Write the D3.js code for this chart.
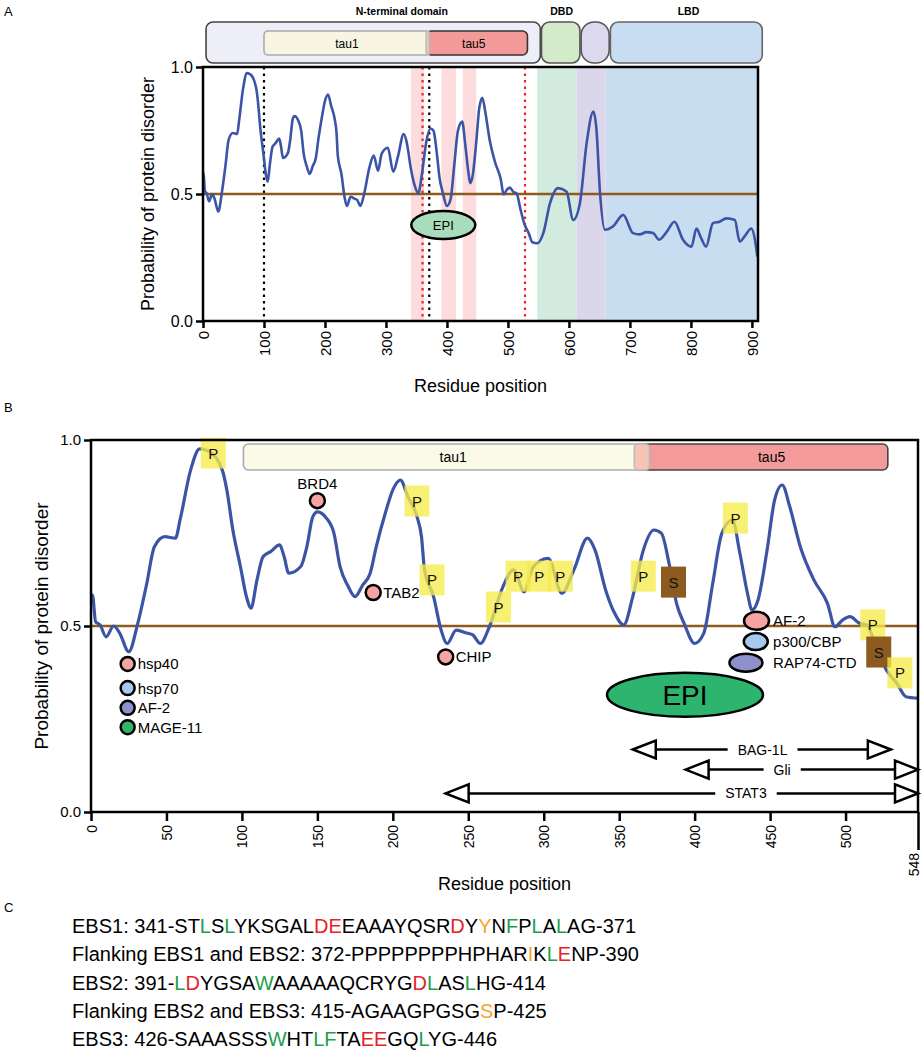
<!DOCTYPE html>
<html><head><meta charset="utf-8">
<script src="https://cdn.jsdelivr.net/npm/d3@7"></script>
<style>body{margin:0;background:#fff}svg text{font-family:"Liberation Sans",Arial,sans-serif}</style>
</head><body><svg id="c" width="923" height="1050"></svg>
<script>
// ---------------- DATA ----------------
const residues = [0,1,3,6,10,15,19,25,31,37,42,49,56,59,66,72,78,87,90,94,99,103,106,110,114,119,125,128,131,139,143,147,150,156,161,165,170,175,180,185,189,195,200,205,210,216,219,221,227,232,236,242,249,253,258,264,273,280,287,293,303,312,320,329,334,341,347,353,359,366,373,378,383,388,393,400,406,412,418,425,430,435,438,442,448,453,458,463,470,479,488,493,498,503,509,514,521,527,534,540,548,558,569,582,596,607,618,629,640,645,651,659,672,689,705,716,727,738,748,760,773,787,801,809,817,825,836,847,858,872,880,888,899,905,909];
const disorder = [0.58,0.583,0.512,0.503,0.471,0.5,0.481,0.431,0.507,0.615,0.713,0.74,0.736,0.785,0.919,0.976,0.97,0.919,0.866,0.758,0.66,0.579,0.548,0.624,0.686,0.7,0.718,0.686,0.642,0.66,0.713,0.794,0.807,0.79,0.749,0.66,0.61,0.579,0.61,0.642,0.713,0.803,0.866,0.892,0.848,0.794,0.74,0.651,0.579,0.489,0.453,0.489,0.481,0.476,0.453,0.498,0.606,0.651,0.592,0.659,0.682,0.588,0.651,0.736,0.704,0.597,0.534,0.503,0.579,0.704,0.758,0.749,0.669,0.561,0.507,0.453,0.48,0.615,0.749,0.785,0.695,0.588,0.543,0.57,0.704,0.839,0.879,0.821,0.713,0.624,0.561,0.498,0.516,0.525,0.508,0.503,0.435,0.382,0.346,0.31,0.306,0.346,0.464,0.523,0.51,0.398,0.464,0.70,0.825,0.757,0.503,0.359,0.372,0.418,0.346,0.341,0.35,0.346,0.32,0.35,0.391,0.32,0.293,0.364,0.325,0.293,0.385,0.391,0.404,0.398,0.313,0.333,0.364,0.32,0.253];

const xTicksA = [0,100,200,300,400,500,600,700,800,900];
const xTicksB = [0,50,100,150,200,250,300,350,400,450,500];
const yTicks = [0,0.5,1];

// panel A shaded regions (residue ranges)
const bandStart = [341,391,426,548,613,660];
const bandEnd   = [362,415,448,613,660,910];
const bandColor = ["#fcdcdc","#fcdcdc","#fcdcdc","#d3ebdf","#dcd6ea","#c9ddf1"];
// dotted boundaries
const blackDotted = [100,371];
const redDotted = [360,528];

// domain bar (panel A)
const domainLabels = ["N-terminal domain","DBD","LBD"];
const domainLabelPos = [326,588,796];

// panel B post-translational modifications
const modType = ["P","P","P","P","P","P","P","P","S","P","P","S","P"];
const modRes  = [81,216,226,270,283,297,311,366,386,427,518,522,536];
const modVal  = [0.965,0.836,0.624,0.551,0.634,0.634,0.634,0.634,0.618,0.79,0.503,0.43,0.374];

// interaction partners shown at a residue
const partnerName = ["BRD4","TAB2","CHIP"];
const partnerRes  = [150,187,235];
const partnerVal  = [0.837,0.59,0.417];

// partners listed at lower left
const leftName = ["hsp40","hsp70","AF-2","MAGE-11"];
const leftVal  = [0.398,0.333,0.28,0.228];
const leftColor= ["#f5a3a3","#a8c8ec","#8e90cc","#2fb46c"];

// cluster near tau5
const clusterName = ["AF-2","p300/CBP","RAP74-CTD"];
const clusterRes  = [441,440.5,434];
const clusterVal  = [0.514,0.458,0.401];
const clusterColor= ["#f5a3a3","#a8c8ec","#8e90cc"];

// range arrows
const rangeName  = ["BAG-1L","Gli","STAT3"];
const rangeStart = [359,394,235];
const rangeEnd   = [530,548,548];
const rangeVal   = [0.168,0.114,0.05];
const rangeLabelRes = [445,458,434];

// panel C sequences: [text, colour key]
const seqLines = [
 [["EBS1: 341-ST","k"],["L","g"],["S","k"],["L","g"],["YKSGAL","k"],["DE","r"],["EAAAYQSR","k"],["D","r"],["Y","k"],["Y","o"],["N","k"],["F","g"],["P","k"],["L","g"],["A","k"],["L","g"],["AG-371","k"]],
 [["Flanking EBS1 and EBS2: 372-PPPPPPPPHPHAR","k"],["I","o"],["K","k"],["L","g"],["E","r"],["NP-390","k"]],
 [["EBS2: 391-","k"],["L","g"],["D","r"],["YGSA","k"],["W","g"],["AAAAAQCRYG","k"],["D","r"],["L","g"],["AS","k"],["L","g"],["HG-414","k"]],
 [["Flanking EBS2 and EBS3: 415-AGAAGPGSG","k"],["S","o"],["P-425","k"]],
 [["EBS3: 426-SAAASSS","k"],["W","g"],["HT","k"],["LF","g"],["TA","k"],["EE","r"],["GQ","k"],["L","g"],["YG-446","k"]]
];
const seqColor = {k:"#000",g:"#1c9e4a",r:"#e52229",o:"#f4a52c"};

// ---------------- DRAW ----------------
const profile = residues.map((r,i)=>[r,disorder[i]]);
const svg = d3.select("#c");
const BLUE = "#3b54a6", BROWN = "#8d5b1c";

function styleAxis(g, fs){
  g.selectAll("path").remove();
  g.selectAll("line").attr("stroke","#000").attr("stroke-width",2.5);
  g.selectAll("text").attr("fill","#000").attr("font-size",fs);
}

// ===== Panel A =====
const xA = d3.scaleLinear().domain([0,910]).range([203,758]);
const yA = d3.scaleLinear().domain([0,1]).range([321,67]);
svg.append("text").attr("x",4).attr("y",16).attr("font-size",13).text("A");

const gA = svg.append("g");
gA.selectAll("rect.band").data(bandStart).join("rect")
  .attr("x",(d)=>xA(d)).attr("width",(d,i)=>xA(bandEnd[i])-xA(d))
  .attr("y",yA(1)).attr("height",yA(0)-yA(1)).attr("fill",(d,i)=>bandColor[i]);
gA.selectAll("line.bd").data(blackDotted).join("line")
  .attr("x1",d=>xA(d)).attr("x2",d=>xA(d)).attr("y1",yA(1)).attr("y2",yA(0))
  .attr("stroke","#000").attr("stroke-width",2.2).attr("stroke-dasharray","2.5,4");
gA.selectAll("line.rd").data(redDotted).join("line")
  .attr("x1",d=>xA(d)).attr("x2",d=>xA(d)).attr("y1",yA(1)).attr("y2",yA(0))
  .attr("stroke","#ee2222").attr("stroke-width",2.2).attr("stroke-dasharray","2.5,4");
gA.append("line").attr("x1",xA(0)).attr("x2",xA(910)).attr("y1",yA(0.5)).attr("y2",yA(0.5))
  .attr("stroke",BROWN).attr("stroke-width",2.5);
const lineA = d3.line().x(d=>xA(d[0])).y(d=>yA(d[1])).curve(d3.curveMonotoneX);
gA.append("path").datum(profile).attr("d",lineA).attr("fill","none").attr("stroke",BLUE).attr("stroke-width",2.6);
// EPI in A
gA.append("ellipse").attr("cx",xA(394)).attr("cy",yA(0.378)).attr("rx",32).attr("ry",14)
  .attr("fill","#a9dcbc").attr("stroke","#000").attr("stroke-width",2.5);
gA.append("text").attr("x",xA(394)).attr("y",yA(0.378)+5).attr("text-anchor","middle").attr("font-size",13).text("EPI");
gA.append("rect").attr("x",xA(0)).attr("y",yA(1)).attr("width",xA(910)-xA(0)).attr("height",yA(0)-yA(1))
  .attr("fill","none").attr("stroke","#000").attr("stroke-width",2.5);
// axes A
const axA_x = gA.append("g").attr("transform",`translate(0,${yA(0)})`)
  .call(d3.axisBottom(xA).tickValues(xTicksA).tickSize(7).tickSizeOuter(0));
styleAxis(axA_x,15);
axA_x.selectAll(".tick text").attr("transform","rotate(-90)").attr("text-anchor","end")
  .attr("x",-10).attr("y",0).attr("dy","0.36em");
const axA_y = gA.append("g").attr("transform",`translate(${xA(0)},0)`)
  .call(d3.axisLeft(yA).tickValues(yTicks).tickFormat(d3.format(".1f")).tickSize(7).tickSizeOuter(0));
styleAxis(axA_y,16);
svg.append("text").attr("transform",`translate(${(xA(0)+xA(910))/2},392)`).attr("text-anchor","middle")
  .attr("font-size",18).text("Residue position");
svg.append("text").attr("transform",`translate(154,${(yA(0)+yA(1))/2}) rotate(-90)`).attr("text-anchor","middle")
  .attr("font-size",18).text("Probability of protein disorder");

// domain bar
const dTop = 22, dBot = 63;
function rbox(g,x0,x1,y0,y1,fill,stroke,r){
  g.append("rect").attr("x",x0).attr("y",y0).attr("width",x1-x0).attr("height",y1-y0)
   .attr("rx",r).attr("ry",r).attr("fill",fill).attr("stroke",stroke).attr("stroke-width",1.6);
}
rbox(svg,xA(5),xA(553),dTop,dBot,"#eeeef8","#444",7);
rbox(svg,xA(366),xA(532),31,55,"#f39a98","#333",5);
rbox(svg,xA(100),xA(371),31,55,"#f8f5e3","#aaa",4);
rbox(svg,xA(366),xA(371),31,55,"#f7c6b8","#bbb",3);
rbox(svg,xA(555),xA(618),dTop,dBot,"#d3ebc9","#555",8);
rbox(svg,xA(620),xA(666),dTop,dBot,"#dcd8ee","#555",13);
rbox(svg,xA(668),xA(917),dTop,dBot,"#c9ddf2","#666",8);
svg.append("text").attr("x",xA(236)).attr("y",48).attr("text-anchor","middle").attr("font-size",12).text("tau1");
svg.append("text").attr("x",xA(444)).attr("y",48).attr("text-anchor","middle").attr("font-size",12).text("tau5");
svg.selectAll("text.dl").data(domainLabels).join("text")
  .attr("x",(d,i)=>xA(domainLabelPos[i])).attr("y",15).attr("text-anchor","middle")
  .attr("font-size",10.5).attr("font-weight","bold").text(d=>d);

// ===== Panel B =====
const xB = d3.scaleLinear().domain([0,548]).range([91,918]);
const yB = d3.scaleLinear().domain([0,1]).range([812,440]);
svg.append("text").attr("x",4).attr("y",412).attr("font-size",13).text("B");
const gB = svg.append("g");
// tau bars
rbox(gB,xB(360),xB(528),444,470,"#f49a9a","#444",5);
rbox(gB,xB(101),xB(370),444,470,"#fbf9e8","#aaa",5);
rbox(gB,xB(360),xB(370),444,470,"#f7c4b4","#bbb",4);
gB.append("text").attr("x",xB(240)).attr("y",462).attr("text-anchor","middle").attr("font-size",14).text("tau1");
gB.append("text").attr("x",xB(451)).attr("y",462).attr("text-anchor","middle").attr("font-size",14).text("tau5");

gB.append("line").attr("x1",xB(0)).attr("x2",xB(548)).attr("y1",yB(0.5)).attr("y2",yB(0.5))
  .attr("stroke",BROWN).attr("stroke-width",2.5);
const lineB = d3.line().x(d=>xB(d[0])).y(d=>yB(d[1])).curve(d3.curveMonotoneX);
gB.append("path").datum(profile.filter(d=>d[0]<=548)).attr("d",lineB)
  .attr("fill","none").attr("stroke",BLUE).attr("stroke-width",3.2);

// modifications
const mods = gB.selectAll("g.mod").data(modType).join("g")
  .attr("transform",(d,i)=>`translate(${xB(modRes[i])},${yB(modVal[i])})`);
mods.append("rect").attr("x",-12.5).attr("y",-15.5).attr("width",25).attr("height",31)
  .attr("fill",d=>d==="P"?"#f5ec4a":"#8d5a1f").attr("fill-opacity",d=>d==="P"?0.78:1);
mods.append("text").attr("text-anchor","middle").attr("y",5.5).attr("font-size",15).attr("fill","#111").text(d=>d);

// partners with markers
gB.selectAll("circle.pt").data(partnerName).join("circle")
  .attr("cx",(d,i)=>xB(partnerRes[i])).attr("cy",(d,i)=>yB(partnerVal[i])).attr("r",7.5)
  .attr("fill","#f5a3a3").attr("stroke","#000").attr("stroke-width",2.5);
gB.selectAll("text.pt").data(partnerName).join("text")
  .attr("x",(d,i)=> i===0 ? xB(partnerRes[i]) : xB(partnerRes[i])+10)
  .attr("y",(d,i)=> i===0 ? yB(partnerVal[i])-12 : yB(partnerVal[i])+5.5)
  .attr("text-anchor",(d,i)=>i===0?"middle":"start").attr("font-size",15).text(d=>d);

gB.selectAll("circle.lf").data(leftName).join("circle")
  .attr("cx",xB(24.3)).attr("cy",(d,i)=>yB(leftVal[i])).attr("r",7)
  .attr("fill",(d,i)=>leftColor[i]).attr("stroke","#000").attr("stroke-width",2.5);
gB.selectAll("text.lf").data(leftName).join("text")
  .attr("x",xB(24.3)+10).attr("y",(d,i)=>yB(leftVal[i])+5.5).attr("font-size",15).text(d=>d);

const rxs=[12.5,12,16.5], rys=[9,8.5,9];
gB.selectAll("ellipse.cl").data(clusterName).join("ellipse")
  .attr("cx",(d,i)=>xB(clusterRes[i])).attr("cy",(d,i)=>yB(clusterVal[i]))
  .attr("rx",(d,i)=>rxs[i]).attr("ry",(d,i)=>rys[i])
  .attr("fill",(d,i)=>clusterColor[i]).attr("stroke","#000").attr("stroke-width",2.5);
gB.selectAll("text.cl").data(clusterName).join("text")
  .attr("x",xB(452)).attr("y",(d,i)=>yB(clusterVal[i])+5.5).attr("font-size",15).text(d=>d);

// EPI in B
gB.append("ellipse").attr("cx",xB(393.6)).attr("cy",yB(0.315)).attr("rx",78).attr("ry",22)
  .attr("fill","#2db56f").attr("stroke","#000").attr("stroke-width",2.5);
gB.append("text").attr("x",xB(393.6)).attr("y",yB(0.315)+10).attr("text-anchor","middle").attr("font-size",28).text("EPI");

// range arrows
rangeName.forEach((nm,i)=>{
  const y = yB(rangeVal[i]), x0 = xB(rangeStart[i]), x1 = xB(rangeEnd[i]), xc = xB(rangeLabelRes[i]);
  const t = gB.append("text").attr("x",xc).attr("y",y+5).attr("text-anchor","middle").attr("font-size",14).text(nm);
  const w = t.node().getComputedTextLength();
  gB.append("line").attr("x1",x0+20).attr("x2",xc-w/2-10).attr("y1",y).attr("y2",y).attr("stroke","#000").attr("stroke-width",2.5);
  gB.append("line").attr("x1",xc+w/2+10).attr("x2",x1-20).attr("y1",y).attr("y2",y).attr("stroke","#000").attr("stroke-width",2.5);
  gB.append("path").attr("d",`M${x0},${y}L${x0+23},${y-9}L${x0+23},${y+9}Z`).attr("fill","#fff").attr("stroke","#000").attr("stroke-width",2.5);
  gB.append("path").attr("d",`M${x1},${y}L${x1-23},${y-9}L${x1-23},${y+9}Z`).attr("fill","#fff").attr("stroke","#000").attr("stroke-width",2.5);
});

gB.append("rect").attr("x",xB(0)).attr("y",yB(1)).attr("width",xB(548)-xB(0)).attr("height",yB(0)-yB(1))
  .attr("fill","none").attr("stroke","#000").attr("stroke-width",2.5);
const axB_x = gB.append("g").attr("transform",`translate(0,${yB(0)})`)
  .call(d3.axisBottom(xB).tickValues(xTicksB).tickSize(9).tickSizeOuter(0));
styleAxis(axB_x,14);
axB_x.selectAll(".tick text").attr("transform","rotate(-90)").attr("text-anchor","end")
  .attr("x",-13).attr("y",0).attr("dy","0.36em");
const axB_end = gB.append("g").attr("transform",`translate(0,${yB(0)})`)
  .call(d3.axisBottom(xB).tickValues([548]).tickSize(38).tickSizeOuter(0));
styleAxis(axB_end,14);
axB_end.selectAll(".tick text").attr("transform","rotate(-90)").attr("text-anchor","end")
  .attr("x",-41).attr("y",0).attr("dy","0.05em");
const axB_y = gB.append("g").attr("transform",`translate(${xB(0)},0)`)
  .call(d3.axisLeft(yB).tickValues(yTicks).tickFormat(d3.format(".1f")).tickSize(7).tickSizeOuter(0));
styleAxis(axB_y,15);
svg.append("text").attr("transform",`translate(${(xB(0)+xB(548))/2},890)`).attr("text-anchor","middle")
  .attr("font-size",18).text("Residue position");
svg.append("text").attr("transform",`translate(48,${(yB(0)+yB(1))/2}) rotate(-90)`).attr("text-anchor","middle")
  .attr("font-size",19).text("Probability of protein disorder");

// ===== Panel C =====
svg.append("text").attr("x",4).attr("y",912).attr("font-size",13).text("C");
seqLines.forEach((segs,i)=>{
  const t = svg.append("text").attr("x",72).attr("y",933+i*28.3).attr("font-size",20);
  segs.forEach(s=>t.append("tspan").attr("fill",seqColor[s[1]]).text(s[0]));
});
</script></body></html>
